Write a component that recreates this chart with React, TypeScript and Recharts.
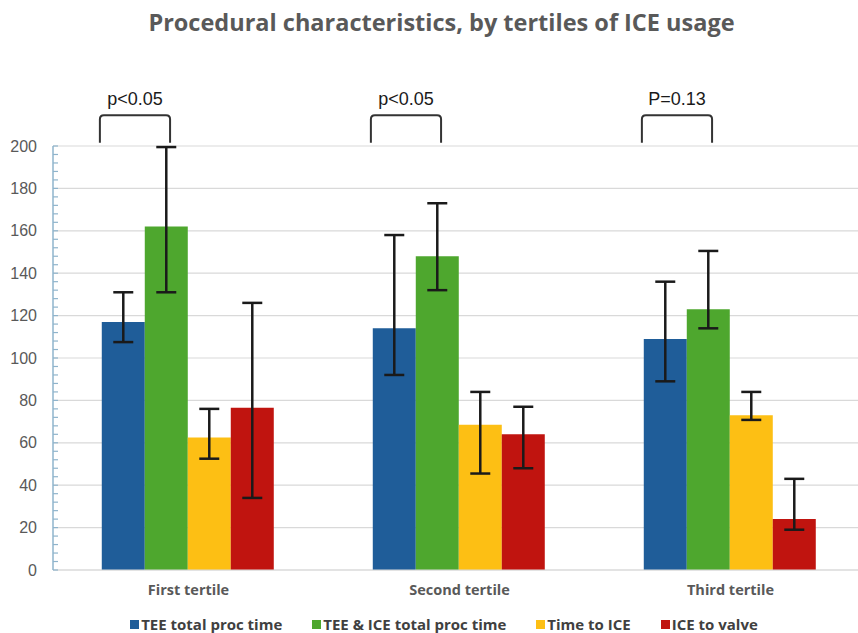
import React from 'react';
import {
  BarChart, Bar, XAxis, YAxis, CartesianGrid, ErrorBar, ReferenceLine, Legend,
} from 'recharts';

// values
const categories = ['First tertile', 'Second tertile', 'Third tertile'];
const seriesNames = ['TEE total proc time', 'TEE & ICE total proc time', 'Time to ICE', 'ICE to valve'];
const seriesColors = ['#1F5D99', '#4EA72E', '#FDBF14', '#C0140F'];

const teeTotal = [117, 114, 109];
const teeTotalLow = [107.5, 92, 89];
const teeTotalHigh = [131, 158, 136];

const teeIceTotal = [162, 148, 123];
const teeIceTotalLow = [131, 132, 114];
const teeIceTotalHigh = [199.5, 173, 150.5];

const timeToIce = [62.5, 68.5, 73];
const timeToIceLow = [52.5, 45.5, 70.8];
const timeToIceHigh = [76, 84, 84];

const iceToValve = [76.5, 64, 24];
const iceToValveLow = [34, 48, 19];
const iceToValveHigh = [126, 77, 43];

const pLabels = ['p<0.05', 'p<0.05', 'P=0.13'];
const bracketTop = 214.5;
const bracketLeg = 201.5;
const pLabelY = 222;

const yTicks = [0, 4, 8, 12, 16, 20, 24, 28, 32, 36, 40, 44, 48, 52, 56, 60, 64, 68, 72, 76, 80,
  84, 88, 92, 96, 100, 104, 108, 112, 116, 120, 124, 128, 132, 136, 140, 144, 148, 152, 156, 160,
  164, 168, 172, 176, 180, 184, 188, 192, 196, 200];
const gridValues = [0, 20, 40, 60, 80, 100, 120, 140, 160, 180, 200];

const keys = ['tee', 'teeIce', 'toIce', 'toValve'];
const values = [teeTotal, teeIceTotal, timeToIce, iceToValve];
const lows = [teeTotalLow, teeIceTotalLow, timeToIceLow, iceToValveLow];
const highs = [teeTotalHigh, teeIceTotalHigh, timeToIceHigh, iceToValveHigh];

const data = categories.map((name, i) => {
  const row: Record<string, any> = { name };
  keys.forEach((k, s) => {
    row[k] = values[s][i];
    row[`${k}Err`] = [values[s][i] - lows[s][i], highs[s][i] - values[s][i]];
  });
  return row;
});

const CHART_W = 920;
const CHART_H = 633;
const Y_W = 53;
const MARGIN = { top: 146, right: 54, left: 0, bottom: 0 };
const BAND = (CHART_W - Y_W - MARGIN.left - MARGIN.right) / categories.length;
const AXIS_BLUE = '#8FB4CC';
const GRAY = '#595959';
const LABEL_FONT = '"Open Sans", sans-serif';

const YTick = (props: any) => {
  const { x, y, payload } = props;
  const v = payload.value;
  return (
    <g>
      <line x1={x} x2={x + 5} y1={y} y2={y} stroke={AXIS_BLUE} strokeWidth={1.2} />
      {v % 20 === 0 && (
        <text x={x - 16} y={y} textAnchor="end" dominantBaseline="central"
          style={{ fontFamily: '"Liberation Sans", Arial, sans-serif', fontSize: 16, fill: GRAY }}>
          {v}
        </text>
      )}
    </g>
  );
};

const makeBracket = (label: string) => (props: any) => {
  const { x1, y1, y2 } = props;
  const top = Math.min(y1, y2);
  const bottom = Math.max(y1, y2);
  const k = (bottom - top) / 200;
  const yOf = (v: number) => bottom - v * k;
  const xl = x1 - 0.327 * BAND;
  const xr = x1 - 0.068 * BAND;
  const yt = yOf(bracketTop);
  const yl = yOf(bracketLeg);
  const r = 4;
  const d = `M${xl},${yl} L${xl},${yt + r} Q${xl},${yt} ${xl + r},${yt} L${xr - r},${yt} Q${xr},${yt} ${xr},${yt + r} L${xr},${yl}`;
  return (
    <g>
      <path d={d} fill="none" stroke="#333" strokeWidth={2} />
      <text x={(xl + xr) / 2} y={yOf(pLabelY)} textAnchor="middle" dominantBaseline="central"
        style={{ fontFamily: '"Liberation Sans", Arial, sans-serif', fontSize: 18, fill: '#1a1a1a' }}>
        {label}
      </text>
    </g>
  );
};

const LegendContent = () => (
  <div style={{
    display: 'flex', justifyContent: 'center', gap: 30, height: 26, boxSizing: 'border-box',
    paddingTop: 8, lineHeight: '18px', fontFamily: LABEL_FONT, fontWeight: 700,
    fontSize: 15, color: '#404040',
  }}>
    {seriesNames.map((n, i) => (
      <span key={n} style={{ display: 'flex', alignItems: 'center', gap: 2 }}>
        <span style={{ width: 9, height: 9, background: seriesColors[i], display: 'inline-block' }} />
        {n}
      </span>
    ))}
  </div>
);

export default function App() {
  return (
    <div style={{
      position: 'absolute', left: 0, top: 0, width: 858, height: 633,
      overflow: 'hidden', background: '#fff',
    }}>
      <div style={{
        position: 'absolute', left: 0, top: 7, width: 883, textAlign: 'center',
        fontFamily: LABEL_FONT, fontWeight: 700, fontSize: 23.5, lineHeight: '30px', color: GRAY,
      }}>
        Procedural characteristics, by tertiles of ICE usage
      </div>
      <BarChart width={CHART_W} height={CHART_H} data={data} margin={MARGIN}
        barCategoryGap="18%" barGap={0}>
        <CartesianGrid vertical={false} horizontalValues={gridValues} stroke="#D9D9D9" strokeWidth={1.2} />
        <XAxis dataKey="name" height={37} tickLine={false} tickMargin={9}
          axisLine={{ stroke: '#D9D9D9', strokeWidth: 1.2 }}
          tick={{ fontFamily: LABEL_FONT, fontWeight: 700, fontSize: 14.5, fill: GRAY }} />
        <YAxis width={Y_W} domain={[0, 200]} ticks={yTicks} interval={0} tickSize={0} tickMargin={0}
          tickLine={false} axisLine={{ stroke: AXIS_BLUE, strokeWidth: 1.5 }} tick={<YTick />} />
        <Legend verticalAlign="bottom" height={26} content={<LegendContent />}
          wrapperStyle={{ left: 0, width: 888, bottom: 0 }} />
        {keys.map((k, s) => (
          <Bar key={k} dataKey={k} name={seriesNames[s]} fill={seriesColors[s]} isAnimationActive={false}>
            <ErrorBar dataKey={`${k}Err`} direction="y" width={10} stroke="#1a1a1a" strokeWidth={2.5} />
          </Bar>
        ))}
        {categories.map((c, i) => (
          <ReferenceLine key={c} x={c} ifOverflow="visible" shape={makeBracket(pLabels[i])} />
        ))}
      </BarChart>
    </div>
  );
}
